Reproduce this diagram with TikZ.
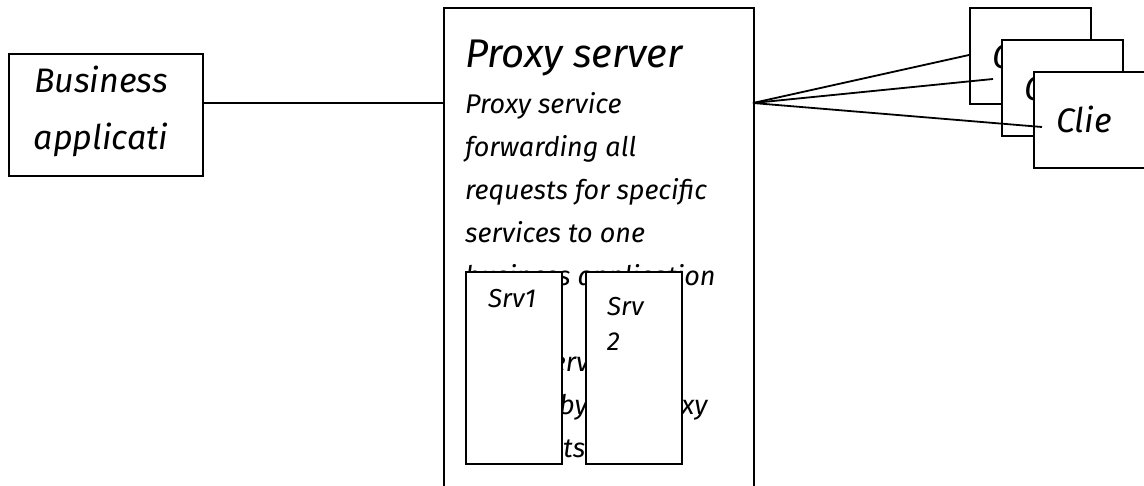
\documentclass[tikz,border=0pt]{standalone}
\usepackage{fontspec}
\setmainfont{Fira Sans}
\tikzstyle{box} = [draw=black, line width=2pt, fill=white, inner sep=0pt, anchor=north west]
\tikzstyle{hand} = [inner sep=0pt, anchor=base west]
\tikzstyle{wire} = [draw=black, line width=1.8pt]
\newcommand{\handsize}[1]{\itshape\fontsize{#1}{#1}\selectfont}

\begin{document}
\begin{tikzpicture}[x=1pt, y=-1pt]
	\useasboundingbox (0,0) rectangle (1144,485);
	\clip (0,0) rectangle (1144,485);
	\fill[white] (0,0) rectangle (1144,485);

	% business application
	\node[box, minimum width=194pt, minimum height=122pt] (biz) at (8,53) {};
	\node[hand, anchor=base, font=\handsize{34}] (biz1) at (101,92) {Business};
	\node[hand, anchor=base, font=\handsize{34}] (biz2) at (101,149) {applicati};

	% proxy server
	\node[box, minimum width=310pt, minimum height=500pt] (proxy) at (443,7) {};
	\node[hand, font=\handsize{40}] (ptitle) at (465,67) {Proxy server};
	\foreach \txt [count=\i] in {Proxy service, forwarding all, requests for specific, services to one, business application, Note:, those services are, treated by the proxy, service itself}
		\node[hand, font=\handsize{27}] (pline\i) at (465,{113+43*(\i-1)}) {\txt};

	\node[box, minimum width=96pt, minimum height=192pt] (srv1) at (465,271) {};
	\node[box, minimum width=96pt, minimum height=192pt] (srv2) at (585,271) {};
	\node[hand, font=\handsize{26}] (srv1t) at (488,307) {Srv1};
	\node[hand, font=\handsize{26}] (srv2a) at (607,315) {Srv};
	\node[hand, font=\handsize{26}] (srv2b) at (607,350) {2};

	% clients
	\foreach \k in {1,2,3} {
		\node[box, minimum width=121pt, minimum height=96pt] (cl\k) at ({969+32*(\k-1)},{7+32*(\k-1)}) {};
		\node[hand, font=\handsize{34}] (clt\k) at ({992+32*(\k-1)},{68+32*(\k-1)}) {Clie};
	}

	% connectors
	\coordinate (prin) at (443,103);
	\coordinate (prout) at (753,103);
	\coordinate (c1end) at (969,55);
	\coordinate (c2end) at (993,79);
	\coordinate (c3end) at (1042,127);
	\draw[wire] (biz.east |- prin) -- (prin);
	\draw[wire] (prout) -- (c1end);
	\draw[wire] (prout) -- (c2end);
	\draw[wire] (prout) -- (c3end);
\end{tikzpicture}
\end{document}
